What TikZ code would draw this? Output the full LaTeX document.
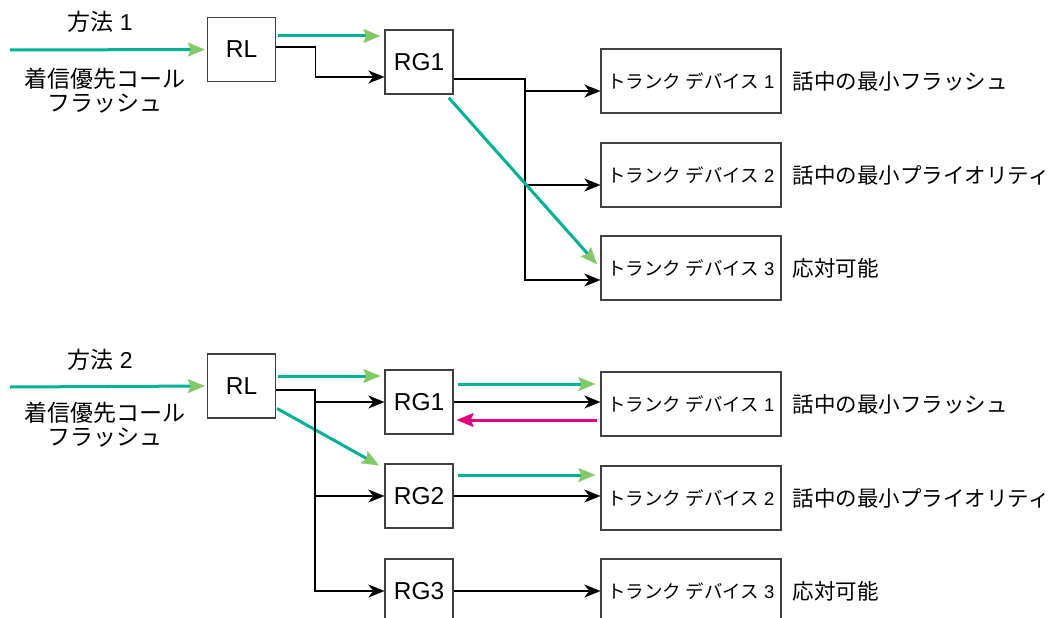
\documentclass[tikz,border=0pt]{standalone}
\usepackage{fontspec}
\setmainfont{Liberation Sans}
\newfontfamily\jp{Noto Sans CJK JP}
\usetikzlibrary{arrows.meta}
\definecolor{tuerkis}{RGB}{0,178,150}
\definecolor{hellgruen}{RGB}{130,200,100}
\definecolor{rosa}{RGB}{230,0,126}
\definecolor{rahmen}{RGB}{64,64,64}
\begin{document}
\begin{tikzpicture}[x=1pt,y=-1pt,
  kasten/.style={draw=rahmen,line width=1.4pt,minimum width=68pt,minimum height=64pt,inner sep=0pt,font=\fontsize{24.5}{26}\selectfont},
  trunk/.style={kasten,minimum width=180pt,font=\fontsize{18.5}{20}\selectfont},
  notiz/.style={anchor=west,inner sep=0pt,font=\fontsize{21.5}{24}\jp},
  links/.style={align=center,font=\fontsize{23}{24}\selectfont},
  pfeil/.style={line width=1.3pt,-{Stealth[length=16pt,width=13pt,inset=5pt,line width=0.3pt]}},
  gruen/.style={tuerkis,line width=3pt,-{Stealth[length=17pt,width=14pt,inset=3pt,line width=0.3pt,color=hellgruen]}},
  zurueck/.style={rosa,line width=3pt,-{Stealth[length=17pt,width=14pt,inset=3pt,line width=0.3pt]}}]
 \useasboundingbox (0,0) rectangle (1057,618);
 % Methode 1
 \node[links] (Ma) at (100,22) {{\jp 方法} 1};
 \node[links] (Ta) at (105,91) {{\jp 着信優先コール}\\{\jp フラッシュ}};
 \coordinate (Ea) at (10,50);
 \node[kasten] (RLa) at (241.5,49.5) {RL};
 \node[kasten] (RGa1) at (419,62) {RG1};
 \foreach \n/\y/\txt in {1/81/話中の最小フラッシュ, 2/175/話中の最小プライオリティ, 3/268/応対可能}{
  \node[trunk] (TDa\n) at (691,\y) {{\jp トランク デバイス} \n};
  \node[notiz] (La\n) at ([xshift=11pt]TDa\n.east) {\txt};
 }
 \draw[gruen,shorten >=2pt] (Ea) -- (RLa.west);
 \draw[gruen,shorten <=2pt,shorten >=4pt] ([yshift=13.5pt]RLa.east) -- ([yshift=13.5pt]RLa.east -| RGa1.west);
 \draw[pfeil] ([yshift=2.5pt]RLa.east) -- ++(39,0) |- ([yshift=-15pt]RGa1.west);
 % Verteiler
 \coordinate (Ka) at (525,79);
 \draw[pfeil] ([yshift=-17pt]RGa1.east) -- (Ka) |- ([yshift=-12pt]TDa3.west);
 \foreach \n in {1,2}
  \draw[pfeil] ([yshift=-10pt]TDa\n.west -| Ka) -- ([yshift=-10pt]TDa\n.west);
 \draw[gruen,shorten >=5pt] ([xshift=-5pt,yshift=-3pt]RGa1.south east) -- (TDa3.west);

 % Methode 2
 \node[links] (Mb) at (100,360) {{\jp 方法} 2};
 \node[links] (Tb) at (105,424.5) {{\jp 着信優先コール}\\{\jp フラッシュ}};
 \coordinate (Eb) at (10,387);
 \node[kasten] (RLb) at (241.5,386) {RL};
 \foreach \n/\y in {1/402,2/496,3/591}
  \node[kasten] (RGb\n) at (419,\y) {RG\n};
 \foreach \n/\y/\txt in {1/404/話中の最小フラッシュ, 2/498/話中の最小プライオリティ, 3/591/応対可能}{
  \node[trunk] (TDb\n) at (691,\y) {{\jp トランク デバイス} \n};
  \node[notiz] (Lb\n) at ([xshift=11pt]TDb\n.east) {\txt};
 }
 \draw[gruen,shorten >=2pt] (Eb) -- (RLb.west);
 \draw[gruen,shorten <=2pt,shorten >=4pt] ([yshift=10pt]RLb.east) -- ([yshift=10pt]RLb.east -| RGb1.west);
 \draw[gruen,shorten <=1pt,shorten >=4pt] ([yshift=-22pt]RLb.east) -- ([xshift=-2pt,yshift=-4pt]RGb2.north west);
 % Verteiler
 \coordinate (Kb) at (315,390);
 \draw[pfeil] ([yshift=-4pt]RLb.east) -- (Kb) |- (RGb3.west);
 \foreach \n in {1,2}
  \draw[pfeil] (RGb\n.west -| Kb) -- (RGb\n.west);
 \foreach \n/\d in {1/18,2/21}{
  \draw[gruen,shorten <=4pt,shorten >=5pt] ([yshift=\d pt]RGb\n.east) -- ([yshift=\d pt]RGb\n.east -| TDb\n.west);
  \draw[pfeil] (RGb\n.east) -- (RGb\n.east -| TDb\n.west);
 }
 \draw[pfeil] (RGb3.east) -- (TDb3.west);
 \draw[zurueck,shorten <=3pt,shorten >=3pt] ([yshift=-18pt]RGb1.east -| TDb1.west) -- ([yshift=-18pt]RGb1.east);
\end{tikzpicture}
\end{document}
